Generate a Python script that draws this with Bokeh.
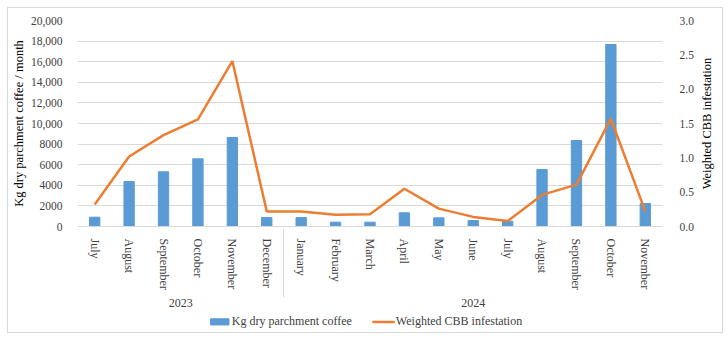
from bokeh.plotting import figure
from bokeh.layouts import column, row
from bokeh.models import (FactorRange, Range1d, LinearAxis, FixedTicker, Legend, LegendItem,
                          ColumnDataSource, NumeralTickFormatter)
from bokeh.embed import file_html
from bokeh.resources import INLINE

years = ["2023"] * 6 + ["2024"] * 11
months = ["July", "August", "September", "October", "November", "December",
          "January", "February", "March", "April", "May", "June", "July",
          "August", "September", "October", "November"]
kg_coffee = [900, 4370, 5310, 6570, 8640, 870, 870, 420, 420, 1330, 840, 580, 520,
             5530, 8350, 17670, 2230]
cbb = [0.32, 1.02, 1.33, 1.56, 2.41, 0.22, 0.22, 0.17, 0.18, 0.55, 0.26, 0.14, 0.08,
       0.46, 0.61, 1.57, 0.22]
left_ticks = [0, 2000, 4000, 6000, 8000, 10000, 12000, 14000, 16000, 18000, 20000]
left_labels = ["0", "2000", "4000", "6000", "8000", "10,000", "12,000", "14,000",
               "16,000", "18,000", "20,000"]
right_ticks = [0, 0.5, 1.0, 1.5, 2.0, 2.5, 3.0]

FONT = "Liberation Serif"
BAR = "#5B9BD5"
LINE = "#ED7D31"
GRID = "#d9d9d9"
TXT = "#404040"

factors = list(zip(years, months))
src = ColumnDataSource(dict(x=factors, kg=kg_coffee, cbb=cbb))

p = figure(width=688, height=302, output_backend="svg", toolbar_location=None,
           x_range=FactorRange(*factors, factor_padding=0, group_padding=0, range_padding=0),
           y_range=Range1d(0, 20000),
           min_border_left=69, min_border_right=31, min_border_top=12, min_border_bottom=84)
p.outline_line_color = None
p.extra_y_ranges = {"cbb": Range1d(0, 3)}

bars = p.vbar(x="x", top="kg", width=0.3, source=src, color=BAR)
line = p.line(x="x", y="cbb", source=src, y_range_name="cbb", line_color=LINE, line_width=2.5)

p.xgrid.grid_line_color = None
p.ygrid.grid_line_color = GRID
p.ygrid.ticker = FixedTicker(ticks=left_ticks)

ya = p.yaxis[0]
ya.ticker = FixedTicker(ticks=left_ticks)
ya.major_label_overrides = {t: l for t, l in zip(left_ticks, left_labels)}
ya.axis_label = "Kg dry parchment coffee / month"

ra = LinearAxis(y_range_name="cbb", ticker=FixedTicker(ticks=right_ticks),
                formatter=NumeralTickFormatter(format="0.0"))
p.add_layout(ra, "right")

# strip to the right carrying the right-hand axis title (reads bottom-to-top)
st = figure(width=26, height=302, output_backend="svg", toolbar_location=None,
            x_axis_location=None, x_range=Range1d(0, 1), y_range=Range1d(0, 3),
            min_border_left=6, min_border_right=0, min_border_top=12, min_border_bottom=84)
st.grid.visible = False
st.outline_line_color = None
sa = st.yaxis[0]
sa.ticker = FixedTicker(ticks=[])
sa.axis_label = "Weighted CBB infestation"
sa.major_tick_out = 0
sa.major_tick_in = 0

for ax in (ya, ra, sa):
    ax.axis_line_color = None
    ax.major_tick_line_color = None
    ax.minor_tick_line_color = None
    ax.major_label_text_font = FONT
    ax.major_label_text_font_size = "11.5px"
    ax.major_label_text_color = TXT
    ax.axis_label_text_font = FONT
    ax.axis_label_text_font_size = "12.5px"
    ax.axis_label_text_font_style = "normal"
    ax.axis_label_text_color = "#000000"
    ax.axis_label_standoff = 2
ya.major_label_standoff = 9
ra.major_label_standoff = 11
sa.major_label_standoff = 0

xa = p.xaxis[0]
xa.axis_line_color = GRID
xa.major_tick_line_color = None
xa.minor_tick_line_color = None
xa.major_label_orientation = "vertical"
xa.major_label_text_font = FONT
xa.major_label_text_font_size = "12px"
xa.major_label_text_color = TXT
xa.major_label_standoff = 6
xa.group_text_font = FONT
xa.group_text_font_size = "12px"
xa.group_text_color = TXT
xa.group_text_font_style = "normal"
xa.separator_line_color = GRID
xa.separator_line_width = 1

# legend strip below the chart (series renderers kept hidden, used only for legend swatches)
lg = figure(width=714, height=22, output_backend="svg", toolbar_location=None,
            x_range=FactorRange(*factors), y_range=Range1d(-2000000, -1999999),
            x_axis_location=None, y_axis_location=None,
            min_border_left=0, min_border_right=0, min_border_top=0, min_border_bottom=0)
lg.grid.visible = False
lg.outline_line_color = None
lb = lg.vbar(x="x", top="kg", width=0.3, source=src, color=BAR)
ll = lg.line(x="x", y="cbb", source=src, line_color=LINE, line_width=2.5)
lb.visible = False
ll.visible = False
legend = Legend(items=[LegendItem(label="Kg dry parchment coffee", renderers=[lb]),
                       LegendItem(label="Weighted CBB infestation", renderers=[ll])],
                orientation="horizontal", location="center", click_policy="none",
                label_text_font=FONT, label_text_font_size="12px", label_text_color=TXT,
                glyph_width=23, glyph_height=8, border_line_color=None,
                background_fill_alpha=0, spacing=20, padding=2, margin=0,
                label_standoff=1, inactive_fill_alpha=0)
lg.add_layout(legend)

layout = column(row(p, st, spacing=0), lg, spacing=0,
                styles={"border": "1px solid #d9d9d9", "margin-left": "7px", "margin-top": "7px"})

open("out.html", "w").write(file_html(layout, INLINE))
